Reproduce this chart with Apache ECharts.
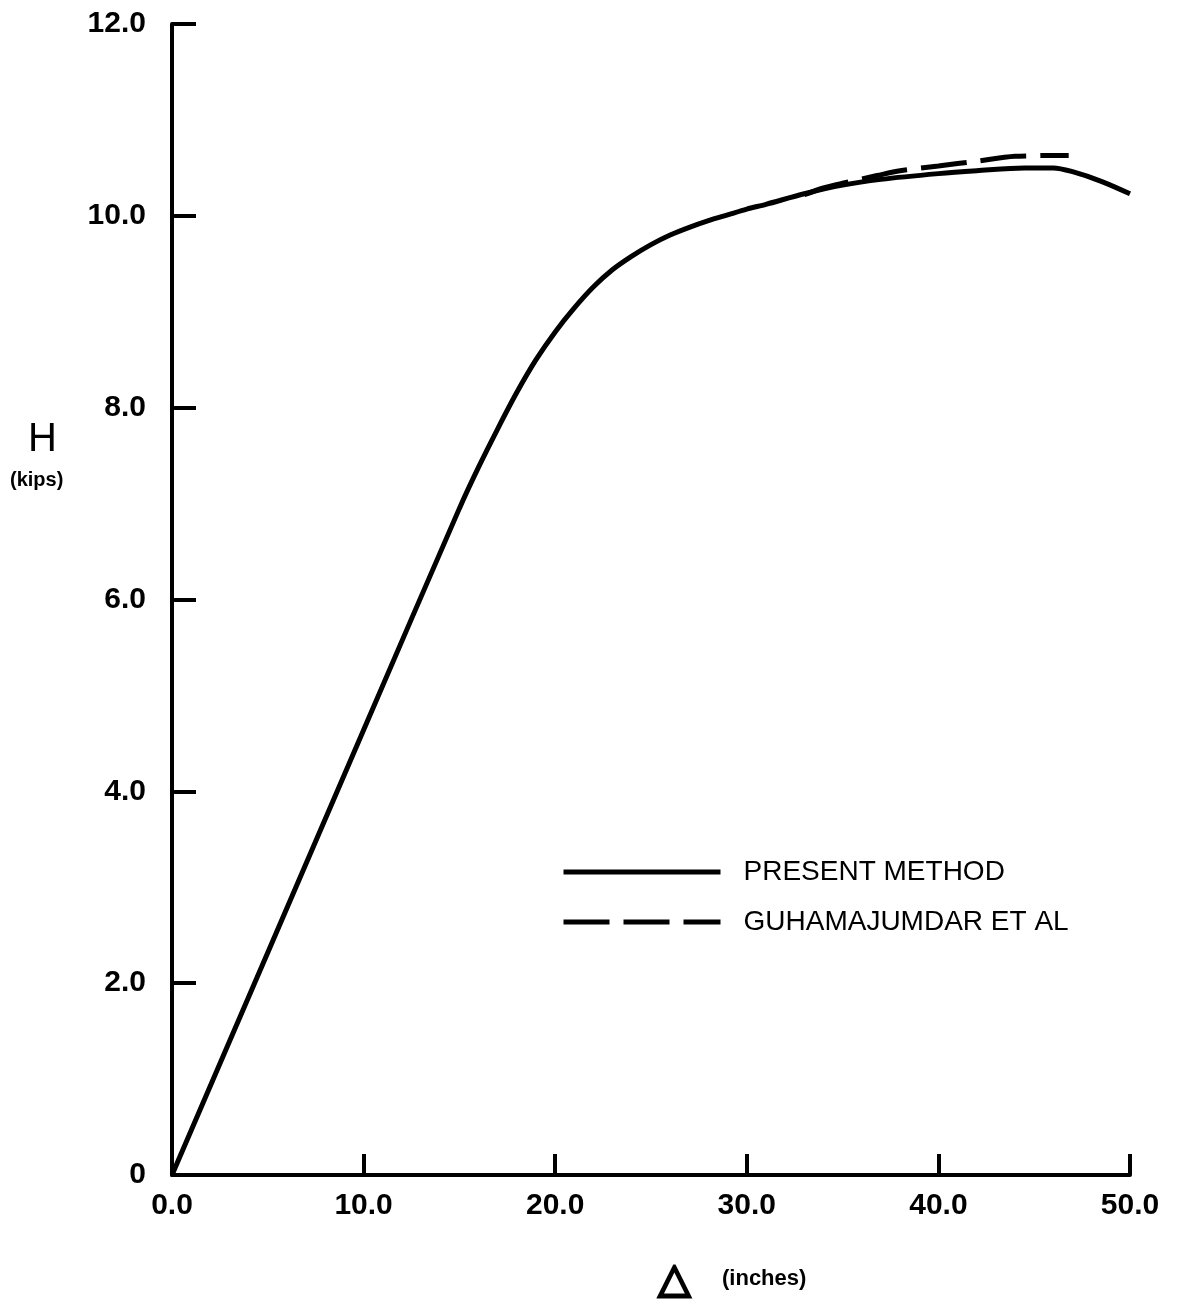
<!DOCTYPE html>
<html>
<head>
<meta charset="utf-8">
<script src="https://cdn.jsdelivr.net/npm/echarts@6/dist/echarts.min.js"></script>
<style>
  html, body { margin: 0; padding: 0; background: #fff; }
  #chart { width: 1195px; height: 1299px; }
</style>
</head>
<body>
<div id="chart"></div>
<script>
// deflection (inches) vs load H (kips)
const presentX = [0, 5, 10, 15, 16, 17, 18, 19, 20, 21, 22, 23, 24, 25, 26, 27, 28, 29, 30, 31, 33, 35, 37, 40, 42, 44.5, 46, 47, 48.5, 50]
const presentH = [0, 2.32, 4.64, 6.95, 7.38, 7.78, 8.16, 8.5, 8.79, 9.04, 9.26, 9.44, 9.58, 9.7, 9.8, 9.88, 9.95, 10.01, 10.07, 10.12, 10.23, 10.32, 10.38, 10.44, 10.47, 10.5, 10.5, 10.46, 10.36, 10.23]

const guhaX = [33, 34, 35, 36.8, 38, 40, 42, 44, 46.8]
const guhaH = [10.22, 10.29, 10.34, 10.42, 10.47, 10.52, 10.57, 10.62, 10.63]

const xTicks = ['0.0', '10.0', '20.0', '30.0', '40.0', '50.0']
const yTicks = ['0', '2.0', '4.0', '6.0', '8.0', '10.0', '12.0']

const seriesNames = ['PRESENT METHOD', 'GUHAMAJUMDAR ET AL']

const font = '"Liberation Sans", Arial, sans-serif'
const narrow = '"Liberation Sans Narrow", "Liberation Sans", Arial, sans-serif'

const zip = (xs, ys) => xs.map((x, i) => [x, ys[i]])

const myChart = echarts.init(document.getElementById('chart'), null, { renderer: 'canvas' })

const axisLine = { show: true, lineStyle: { color: '#000', width: 4 } }

const option = {
  backgroundColor: '#fff',
  animation: false,
  grid: { left: 172, right: 65, top: 24, bottom: 124, containLabel: false },
  legend: {
    orient: 'vertical',
    left: 556,
    top: 853,
    itemWidth: 157,
    itemHeight: 28,
    itemGap: 22,
    data: seriesNames,
    // hide the legend symbol, keep only the line sample
    itemStyle: { opacity: 0 },
    lineStyle: { width: 5 },
    textStyle: { color: '#000', fontSize: 28, fontFamily: font, padding: [0, 0, 0, 18] },
  },
  xAxis: {
    type: 'value',
    min: 0,
    max: 50,
    interval: 10,
    axisLine,
    splitLine: { show: false },
    axisTick: { show: true, inside: true, length: 21, lineStyle: { color: '#000', width: 4 } },
    axisLabel: {
      color: '#000',
      fontSize: 30,
      fontWeight: 'bold',
      fontFamily: font,
      margin: 16,
      formatter: (v) => xTicks[Math.round(v / 10)],
    },
  },
  yAxis: {
    type: 'value',
    min: 0,
    max: 12,
    interval: 2,
    axisLine,
    splitLine: { show: false },
    axisTick: { show: true, inside: true, length: 24, lineStyle: { color: '#000', width: 4 } },
    axisLabel: {
      color: '#000',
      fontSize: 30,
      fontWeight: 'bold',
      fontFamily: font,
      margin: 26,
      formatter: (v) => yTicks[Math.round(v / 2)],
    },
  },
  graphic: [
    { type: 'text', left: 28, top: 420, style: { text: 'H', fontSize: 40, fontFamily: font, fill: '#000' } },
    { type: 'text', left: 10, top: 470, style: { text: '(kips)', fontSize: 20, fontWeight: 'bold', fontFamily: narrow, fill: '#000' } },
    { type: 'text', left: 657, top: 1259, style: { text: '△', fontSize: 42, fontFamily: '"DejaVu Sans", sans-serif', fill: '#000', stroke: '#000', lineWidth: 2.5 } },
    { type: 'text', left: 722, top: 1268, style: { text: '(inches)', fontSize: 22, fontWeight: 'bold', fontFamily: narrow, fill: '#000' } },
  ],
  series: [
    {
      name: seriesNames[0],
      type: 'line',
      data: zip(presentX, presentH),
      smooth: 0.3,
      symbol: 'none',
      lineStyle: { color: '#000', width: 5, type: 'solid' },
      itemStyle: { color: '#000' },
      z: 3,
    },
    {
      name: seriesNames[1],
      type: 'line',
      data: zip(guhaX, guhaH),
      smooth: 0.3,
      symbol: 'none',
      lineStyle: { color: '#000', width: 5, type: [46, 14] },
      itemStyle: { color: '#000' },
      z: 2,
    },
  ],
}

myChart.setOption(option)
</script>
</body>
</html>
